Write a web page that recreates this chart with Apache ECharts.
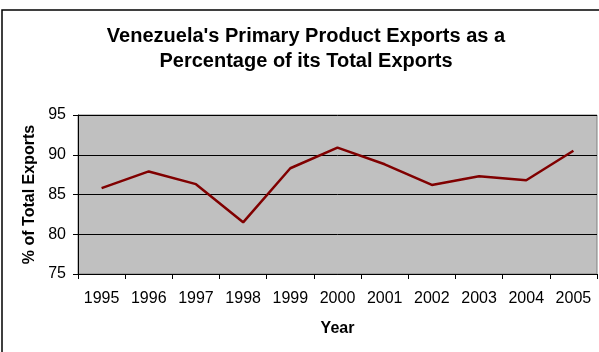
<!DOCTYPE html>
<html>
<head>
<meta charset="utf-8">
<script src="https://cdn.jsdelivr.net/npm/echarts@6/dist/echarts.min.js"></script>
<style>
  html, body { margin: 0; padding: 0; background: #ffffff; }
  #chart { width: 599px; height: 352px; }
</style>
</head>
<body>
<div id="chart"></div>
<script>
// Venezuela: primary product exports as a share of total exports (%)
const years = ['1995', '1996', '1997', '1998', '1999', '2000', '2001', '2002', '2003', '2004', '2005'];
const primaryShare = [85.8, 87.9, 86.3, 81.5, 88.3, 90.9, 88.8, 86.2, 87.3, 86.8, 90.5];
const yTicks = { min: 75, max: 95, step: 5 };
const chartTitle = "Venezuela's Primary Product Exports as a\nPercentage of its Total Exports";

const chart = echarts.init(document.getElementById('chart'), null, { renderer: 'canvas' });
const font = 'Arial, "Liberation Sans", sans-serif';

chart.setOption({
  animation: false,
  backgroundColor: '#ffffff',
  graphic: [{
    // outer chart frame
    type: 'rect',
    shape: { x: 2, y: 10, width: 640, height: 400 },
    style: { fill: 'none', stroke: '#000', lineWidth: 1.5 },
    silent: true,
    z: 100
  }, {
    // two-line title, centred over the plot
    type: 'text',
    x: 306,
    y: 24,
    style: {
      text: chartTitle,
      align: 'center',
      verticalAlign: 'top',
      fontFamily: font,
      fontWeight: 'bold',
      fontSize: 20,
      lineHeight: 25,
      fill: '#000'
    },
    silent: true,
    z: 100
  }],
  grid: {
    left: 78, top: 115, right: 2, bottom: 78,
    show: true, backgroundColor: '#c0c0c0', borderColor: '#808080', borderWidth: 1
  },
  xAxis: {
    type: 'category',
    data: years,
    boundaryGap: true,
    name: 'Year',
    nameLocation: 'middle',
    nameGap: 47,
    nameTextStyle: { fontFamily: font, fontWeight: 'bold', fontSize: 16, color: '#000' },
    axisLine: { lineStyle: { color: '#000', width: 1 } },
    axisTick: { show: true, alignWithLabel: false, length: 5, inside: false, lineStyle: { color: '#000' } },
    axisLabel: { fontFamily: font, fontSize: 16, color: '#000', margin: 17, interval: 0 },
    splitLine: { show: false }
  },
  yAxis: {
    type: 'value',
    min: yTicks.min,
    max: yTicks.max,
    interval: yTicks.step,
    name: '% of Total Exports',
    nameLocation: 'middle',
    nameGap: 40,
    nameRotate: 90,
    nameTextStyle: { fontFamily: font, fontWeight: 'bold', fontSize: 16, color: '#000' },
    axisLine: { show: true, lineStyle: { color: '#000', width: 1 } },
    axisTick: { show: true, length: 5, lineStyle: { color: '#000' } },
    axisLabel: { fontFamily: font, fontSize: 16, color: '#000', margin: 12 },
    splitLine: { show: true, lineStyle: { color: '#000', width: 1 } }
  },
  series: [{
    type: 'line',
    data: primaryShare,
    symbol: 'none',
    lineStyle: { color: '#800000', width: 2.5 },
    z: 3
  }]
});
</script>
</body>
</html>
